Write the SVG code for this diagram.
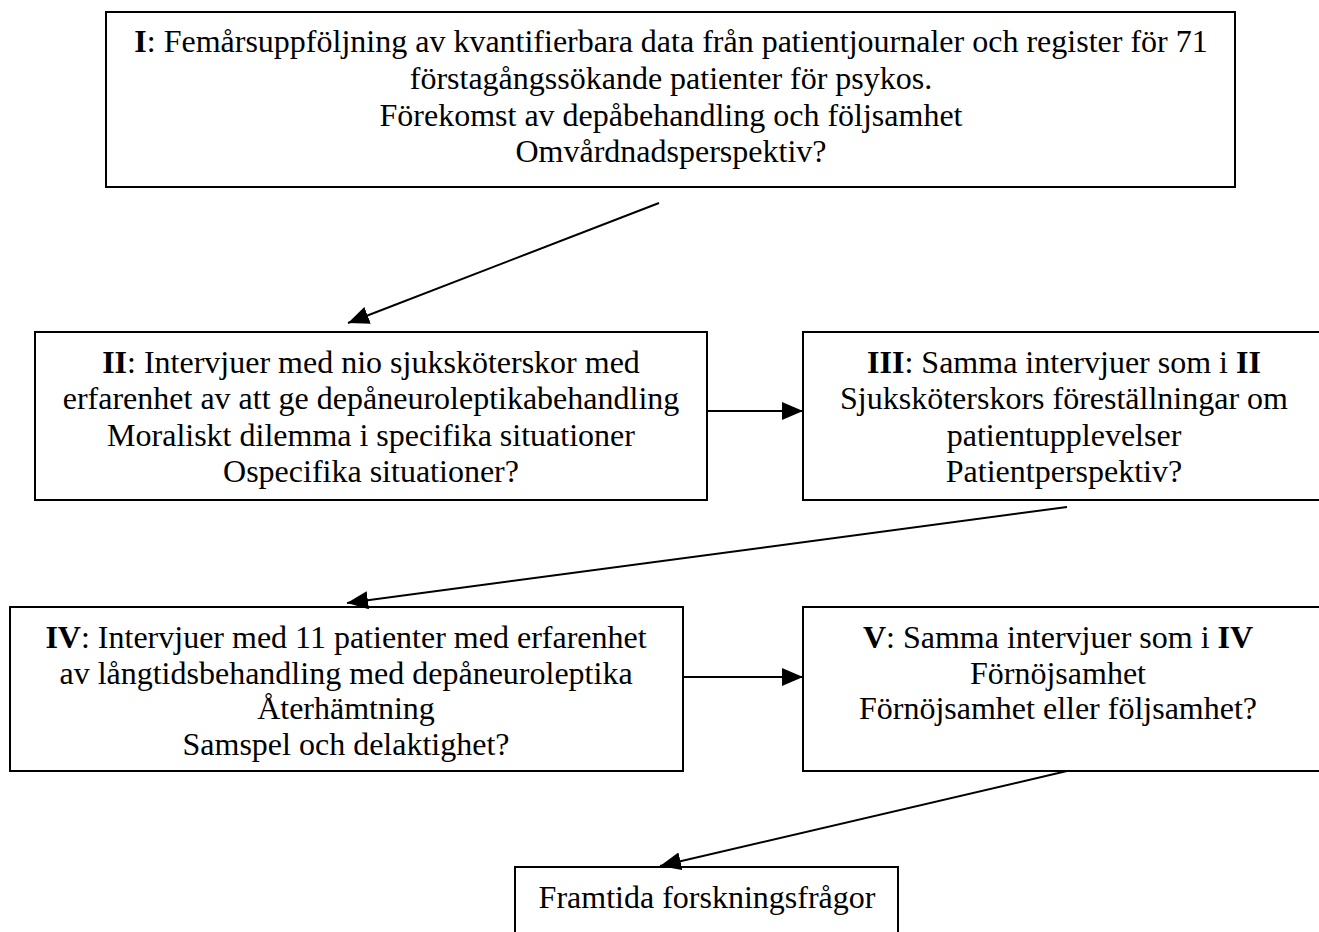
<svg xmlns="http://www.w3.org/2000/svg" width="1319" height="932" viewBox="0 0 1319 932">
<style>
.box{fill:#fff;stroke:#000;stroke-width:2}
.t{font-family:"Liberation Serif","Times New Roman",serif;font-size:32px;fill:#000;text-anchor:middle}
.b{font-weight:bold}
.c{stroke:#000;stroke-width:2;fill:none;marker-end:url(#ah)}
</style>
<defs>
<marker id="ah" markerUnits="userSpaceOnUse" markerWidth="22" markerHeight="18" refX="21" refY="9" orient="auto">
<path d="M0,0 L21,9 L0,18 Z" fill="#000"/>
</marker>
<clipPath id="clip4"><rect x="11" y="608" width="671" height="154"/></clipPath>
</defs>
<rect width="1319" height="932" fill="#fff"/>
<g id="n1">
<rect class="box" x="106" y="12" width="1129" height="175"/>
<text class="t" x="671" y="52"><tspan class="b">I</tspan>: Femårsuppföljning av kvantifierbara data från patientjournaler och register för 71</text>
<text class="t" x="671" y="89">förstagångssökande patienter för psykos.</text>
<text class="t" x="671" y="126">Förekomst av depåbehandling och följsamhet</text>
<text class="t" x="671" y="162">Omvårdnadsperspektiv?</text>
</g>
<g id="n2">
<rect class="box" x="35" y="332" width="672" height="168"/>
<text class="t" x="371" y="373"><tspan class="b">II</tspan>: Intervjuer med nio sjuksköterskor med</text>
<text class="t" x="371" y="409">erfarenhet av att ge depåneuroleptikabehandling</text>
<text class="t" x="371" y="446">Moraliskt dilemma i specifika situationer</text>
<text class="t" x="371" y="482">Ospecifika situationer?</text>
</g>
<g id="n3">
<rect class="box" x="803" y="332" width="530" height="168"/>
<text class="t" x="1064" y="373"><tspan class="b">III</tspan>: Samma intervjuer som i <tspan class="b">II</tspan></text>
<text class="t" x="1064" y="409">Sjuksköterskors föreställningar om</text>
<text class="t" x="1064" y="446">patientupplevelser</text>
<text class="t" x="1064" y="482">Patientperspektiv?</text>
</g>
<g id="n4">
<rect class="box" x="10" y="607" width="673" height="164"/>
<g clip-path="url(#clip4)">
<text class="t" x="346" y="648"><tspan class="b">IV</tspan>: Intervjuer med 11 patienter med erfarenhet</text>
<text class="t" x="346" y="684">av långtidsbehandling med depåneuroleptika</text>
<text class="t" x="346" y="719">Återhämtning</text>
<text class="t" x="346" y="755">Samspel och delaktighet?</text>
</g>
</g>
<g id="n5">
<rect class="box" x="803" y="607" width="530" height="164"/>
<text class="t" x="1058" y="648"><tspan class="b">V</tspan>: Samma intervjuer som i <tspan class="b">IV</tspan></text>
<text class="t" x="1058" y="684">Förnöjsamhet</text>
<text class="t" x="1058" y="719">Förnöjsamhet eller följsamhet?</text>
</g>
<g id="n6">
<rect class="box" x="515" y="867" width="383" height="80"/>
<text class="t" x="707" y="908">Framtida forskningsfrågor</text>
</g>
<g id="connectors">
<line class="c" x1="659" y1="203" x2="348" y2="323"/>
<line class="c" x1="707" y1="411" x2="803" y2="411"/>
<line class="c" x1="1067" y1="507" x2="347" y2="603"/>
<line class="c" x1="683" y1="677" x2="803" y2="677"/>
<line class="c" x1="1067" y1="771" x2="660" y2="866"/>
</g>
</svg>
